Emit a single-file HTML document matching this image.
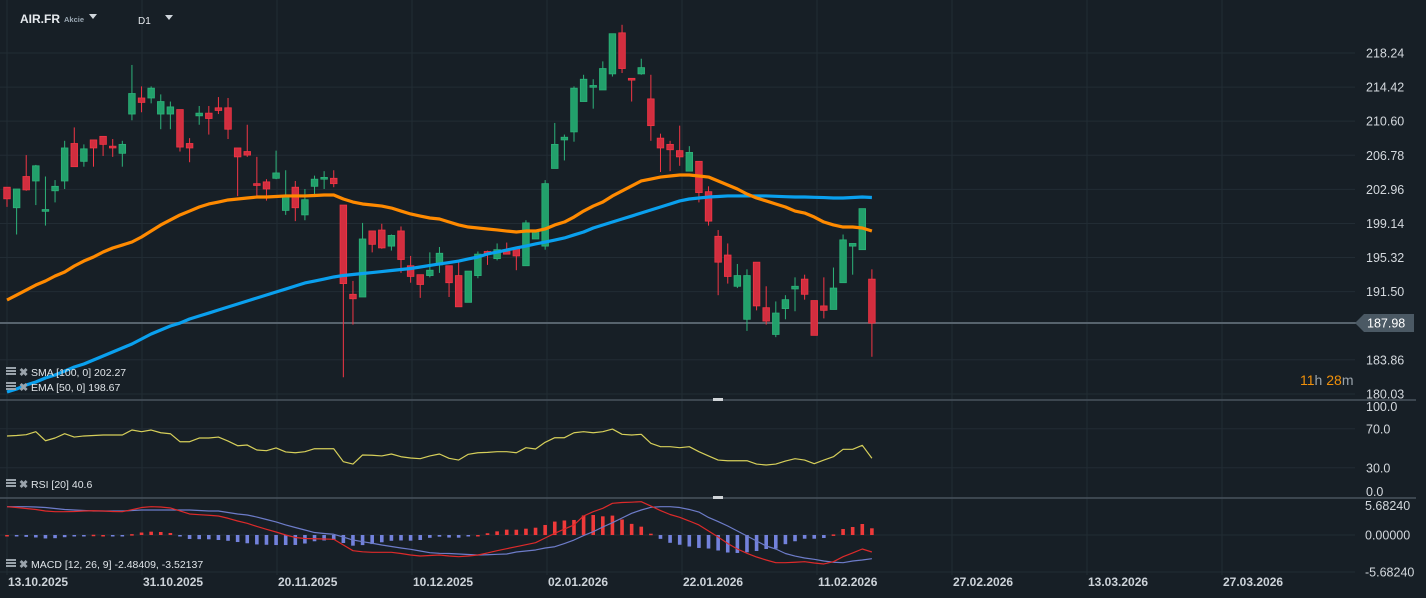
<!DOCTYPE html>
<html><head><meta charset="utf-8"><style>
html,body{margin:0;padding:0;background:#171f26;overflow:hidden}
svg{display:block;font-family:"Liberation Sans",sans-serif}
</style></head><body>
<svg id="chart" width="1426" height="598" viewBox="0 0 1426 598" xmlns="http://www.w3.org/2000/svg">
<rect width="1426" height="598" fill="#171f26"/>
<g id="grid"></g>
<g id="main"></g>
<g id="rsi"></g>
<g id="macd"></g>
<g id="axes"></g>
<line x1="0" y1="400" x2="1416" y2="400" stroke="#48535d" stroke-width="1.5"/>
<line x1="0" y1="498" x2="1416" y2="498" stroke="#48535d" stroke-width="1.5"/>
<rect x="713" y="398" width="10" height="3" fill="#d0d4d8"/>
<rect x="713" y="496" width="10" height="3" fill="#d0d4d8"/>
<g>
<text x="20" y="23" fill="#e6eaee" font-size="12" font-weight="bold">AIR.FR</text>
<text x="64" y="22" fill="#9aa7b2" font-size="7.5" font-weight="bold">Akcie</text>
<polygon points="89,14 97,14 93,19" fill="#d0d6dc"/>
<text x="138" y="24" fill="#e6eaee" font-size="10">D1</text>
<polygon points="165,15 173,15 169,20" fill="#d0d6dc"/>
</g>
<g id="legends"></g>
</svg>
<script>
const NS='http://www.w3.org/2000/svg';
// ---------- data ----------
const opens=[203.2,200.9,204.4,203.9,200.5,202.8,203.9,208.1,206.1,208.5,208.9,207.8,207.0,211.4,213.2,213.2,211.4,211.4,211.9,208.1,211.2,211.5,212.1,212.1,207.6,207.2,203.6,203.8,204.2,200.6,203.2,200.1,203.3,204.1,204.2,201.2,191.2,190.9,198.3,198.4,196.6,198.3,194.4,193.4,193.3,194.5,194.4,193.3,190.3,193.3,196.0,195.2,196.0,196.4,194.4,197.4,196.6,205.3,208.5,209.4,212.8,214.4,214.1,215.9,220.5,215.4,215.9,213.1,208.7,208.0,207.3,205.0,206.1,202.7,197.7,195.6,192.1,188.4,194.8,189.7,186.7,189.6,191.8,192.9,190.5,189.9,189.5,192.5,196.6,196.2,192.9];
const highs=[203.2,203.0,206.8,205.7,204.4,204.0,208.4,209.9,208.0,208.5,208.9,208.6,208.4,216.9,214.5,214.5,213.6,212.8,211.9,208.7,212.3,212.3,213.3,213.2,207.6,210.2,206.6,204.1,207.3,205.1,203.9,203.0,204.5,205.0,205.1,201.2,192.7,199.2,198.3,199.1,197.9,198.8,195.5,193.4,195.9,196.5,194.4,194.8,193.8,196.0,196.1,196.9,197.0,196.4,199.5,198.3,204.0,210.4,209.1,214.5,215.8,215.3,217.3,220.4,221.4,215.4,217.6,215.8,209.2,208.4,210.1,207.8,206.1,203.3,198.4,196.9,194.6,194.0,194.8,192.1,190.4,191.1,193.1,193.4,190.5,193.1,194.2,197.9,196.9,200.8,194.0];
const lows=[201.0,197.9,202.8,201.2,198.9,201.5,203.0,205.5,205.5,205.5,206.7,206.6,205.5,210.7,211.6,212.6,209.7,209.7,207.2,206.0,210.2,209.1,211.4,208.6,202.2,206.6,202.2,201.7,204.1,200.1,199.4,199.5,202.1,203.0,203.2,181.9,187.8,190.9,195.9,196.3,196.1,193.6,192.5,190.8,193.1,193.6,190.9,189.8,190.3,193.0,194.5,195.0,195.7,193.9,194.4,197.4,196.2,205.3,206.2,208.3,212.8,212.0,214.1,215.6,216.0,212.8,215.8,208.4,204.9,205.0,205.6,205.0,201.5,198.9,191.1,192.4,191.9,187.1,189.4,187.8,186.4,188.4,189.3,190.6,186.6,188.5,189.5,192.5,193.4,196.2,184.2];
const closes=[201.9,203.0,202.9,205.6,200.7,203.3,207.6,205.5,207.5,207.6,208.0,207.6,208.0,213.7,212.7,214.3,212.8,212.2,207.7,207.6,211.5,210.9,211.8,209.7,206.6,206.8,203.4,203.0,204.8,202.2,200.9,201.8,204.1,204.3,203.6,192.4,190.7,197.4,196.8,196.4,197.8,195.1,193.2,192.3,193.9,195.8,192.5,189.8,193.8,195.7,195.7,196.2,195.7,195.5,199.2,198.3,203.6,208.0,208.8,214.3,215.3,214.6,216.5,220.4,216.5,215.2,216.6,210.1,207.6,207.4,206.6,207.1,202.6,199.4,194.8,193.2,193.3,193.3,189.9,188.2,189.1,190.6,192.1,191.2,186.6,189.4,191.9,197.3,196.9,200.8,187.98];
const sma100=[180.25,180.59,181.04,181.37,181.82,182.16,182.60,183.05,183.39,183.84,184.29,184.73,185.18,185.63,186.19,186.75,187.20,187.65,187.98,188.43,188.77,189.10,189.44,189.78,190.11,190.45,190.79,191.12,191.46,191.79,192.13,192.47,192.69,192.91,193.14,193.31,193.42,193.53,193.64,193.75,193.87,193.98,194.09,194.26,194.43,194.60,194.76,194.93,195.16,195.38,195.72,195.94,196.16,196.39,196.61,196.84,197.06,197.28,197.51,197.85,198.18,198.63,198.97,199.30,199.64,199.97,200.31,200.65,200.98,201.32,201.66,201.88,201.99,202.10,202.16,202.22,202.22,202.22,202.22,202.22,202.18,202.14,202.10,202.10,202.07,202.04,201.99,201.99,202.05,202.10,202.05];
const ema50=[190.56,191.12,191.68,192.24,192.69,193.25,193.70,194.37,194.93,195.38,195.94,196.39,196.72,197.06,197.62,198.29,198.97,199.53,200.09,200.53,200.98,201.32,201.54,201.77,201.88,201.99,202.10,202.10,202.16,202.22,202.22,202.22,202.27,202.33,202.33,201.88,201.54,201.32,201.21,201.09,200.87,200.53,200.20,199.97,199.75,199.64,199.30,198.97,198.74,198.63,198.52,198.41,198.29,198.18,198.29,198.29,198.52,198.97,199.30,199.86,200.53,201.09,201.54,202.22,202.78,203.34,203.90,204.12,204.34,204.46,204.57,204.57,204.46,204.34,203.90,203.45,203.00,202.44,201.99,201.66,201.32,200.98,200.53,200.31,199.86,199.30,198.97,198.74,198.74,198.63,198.29];
const rsiValues=[62.6,63.1,63.9,67.0,57.7,60.5,64.9,61.5,62.6,63.1,63.6,63.6,63.6,68.7,67.0,68.7,65.9,64.9,56.7,56.7,60.5,60.5,61.5,57.4,52.6,53.3,48.2,47.5,50.3,46.2,45.4,46.5,49.5,49.5,49.5,36.2,33.8,43.1,42.8,42.1,44.1,41.3,40.0,39.3,42.1,44.1,39.7,37.9,43.8,45.4,45.8,46.5,46.5,45.4,50.6,49.2,56.1,60.8,60.8,65.9,67.0,65.9,67.0,69.7,64.3,63.6,64.3,55.1,51.6,51.6,50.6,51.6,46.5,42.1,37.9,37.2,37.2,37.2,33.8,32.8,33.8,36.9,39.3,37.9,34.2,37.9,41.3,48.9,48.9,53.0,39.7];
const macdLine=[4.35,4.22,4.07,3.92,3.69,3.58,3.58,3.61,3.69,3.73,3.69,3.61,3.58,3.89,4.22,4.35,4.30,4.15,3.69,3.23,3.12,3.03,2.92,2.57,2.15,1.80,1.31,0.88,0.46,0,-0.38,-0.54,-0.58,-0.61,-0.66,-1.54,-2.41,-2.58,-2.66,-2.66,-2.66,-2.84,-3.07,-3.23,-3.15,-3.07,-3.23,-3.33,-3.23,-3.07,-2.76,-2.41,-2.10,-1.80,-1.49,-1.18,-0.46,0.26,0.92,1.54,2.92,3.58,4.10,4.87,4.99,5.04,5.12,4.45,3.76,3.15,2.72,2.15,1.54,0.61,-0.31,-1.31,-2.15,-2.81,-3.38,-3.84,-4.25,-4.25,-4.19,-4.10,-4.30,-4.45,-4.10,-3.33,-2.76,-2.15,-2.61];
const signalLine=[4.35,4.35,4.35,4.30,4.22,4.07,3.92,3.84,3.76,3.69,3.69,3.69,3.69,3.76,3.84,3.84,3.84,3.84,3.84,3.84,3.76,3.69,3.69,3.46,3.23,3.07,2.76,2.38,2.00,1.54,1.15,0.77,0.38,0.23,0.11,-0.31,-0.77,-1.03,-1.27,-1.54,-1.77,-2.00,-2.20,-2.46,-2.72,-2.81,-2.84,-2.92,-3.00,-3.07,-3.03,-2.97,-2.92,-2.61,-2.46,-2.30,-2.00,-1.80,-1.31,-0.77,-0.08,0.51,1.23,1.89,2.61,3.33,3.84,4.25,4.35,4.35,4.22,3.92,3.53,2.69,2.07,1.38,0.61,-0.15,-0.92,-1.69,-2.15,-2.84,-3.23,-3.53,-3.73,-3.99,-4.19,-4.25,-3.99,-3.84,-3.64];
const priceTicks=["218.24","214.42","210.60","206.78","202.96","199.14","195.32","191.50","183.86","180.03"];
const rsiTicks=["100.0","70.0","30.0","0.0"];
const macdTicks=["5.68240","0.00000","-5.68240"];
const dateLabels=["13.10.2025","31.10.2025","20.11.2025","10.12.2025","02.01.2026","22.01.2026","11.02.2026","27.02.2026","13.03.2026","27.03.2026"];
const lastPrice=187.98;

// ---------- scales ----------
const x=i=>7+i*9.61;
const yP=p=>53+(218.24-p)*8.924;
const yR=v=>497-v*0.975;
const yM=v=>535-v*6.51;
const dateX=k=>7+k*135;

function mk(tag,attrs,parent){const e=document.createElementNS(NS,tag);for(const k in attrs)e.setAttribute(k,attrs[k]);parent.appendChild(e);return e;}
const grid=document.getElementById('grid'),main=document.getElementById('main'),rsiG=document.getElementById('rsi'),macdG=document.getElementById('macd'),axes=document.getElementById('axes'),leg=document.getElementById('legends');

dateLabels.forEach((d,k)=>{
  const l=mk('line',{x1:dateX(k),y1:0,x2:dateX(k),y2:575,stroke:'#222c34','stroke-width':1},grid);
  
  
  const t=mk('text',{x:dateX(k)+1,y:586,fill:'#cdd3d9','font-size':12,'font-weight':'bold'},axes);
  t.textContent=d;
  
  
});
priceTicks.forEach(s=>{
  const y=yP(parseFloat(s));
  const l=mk('line',{x1:0,y1:y,x2:1355,y2:y,stroke:'#222c34','stroke-width':1},grid);
  
  
  const t=mk('text',{x:1366,y:y+4.5,fill:'#d3d8dd','font-size':12.5},axes);
  t.textContent=s;
  
  
});
rsiTicks.forEach(s=>{
  const v=parseFloat(s),y=yR(v);
  if(v>0&&v<100){const l=mk('line',{x1:0,y1:y,x2:1355,y2:y,stroke:'#222c34','stroke-width':1},grid);
  
  }
  const t=mk('text',{x:1366,y:Math.min(Math.max(y+4.5,411),496),fill:'#d3d8dd','font-size':12.5},axes);
  t.textContent=s;
  
  
});
macdTicks.forEach(s=>{
  const v=parseFloat(s),y=yM(v);
  if(v<=0){const l=mk('line',{x1:0,y1:y,x2:1355,y2:y,stroke:'#222c34','stroke-width':1},grid);
  
  }
  const t=mk('text',{x:1365,y:Math.max(y+4.5,510),fill:'#d3d8dd','font-size':12.5},axes);
  t.textContent=s;
  
  
});

const cy=yP(lastPrice);
const cl=mk('line',{x1:0,y1:cy,x2:1356,y2:cy,stroke:'#57636d','stroke-width':2},main);



opens.forEach((o,i)=>{
  const c=closes[i],up=c>=o,col=up?'#2db37a':'#f23645',fill=up?'#22a06b':'#d22e3f';
  const w=mk('line',{x1:x(i),y1:yP(highs[i]),x2:x(i),y2:yP(lows[i]),stroke:col,'stroke-width':1},main);
  
  
  const top=yP(Math.max(o,c)),bot=yP(Math.min(o,c));
  const b=mk('rect',{x:x(i)-3.3,y:top,width:6.6,height:Math.max(bot-top,1.5),fill:fill,stroke:col,'stroke-width':0.8},main);
  
  
});
function poly(arr,ys,color,w,parent,name){
  const p=mk('polyline',{points:arr.map((v,i)=>x(i)+','+ys(v)).join(' '),fill:'none',stroke:color,'stroke-width':w,'stroke-linejoin':'round'},parent);
  
  
}
poly(sma100,yP,'#0aa0ee',3.2,main,'sma-100-line');
poly(ema50,yP,'#ff8a00',3.2,main,'ema-50-line');

const tag=mk('polygon',{points:`1355,${cy} 1364,${cy-9} 1414,${cy-9} 1414,${cy+9} 1364,${cy+9}`,fill:'#4b5964'},axes);


const tt=mk('text',{x:1367,y:cy+4.5,fill:'#ffffff','font-size':12.5},axes);
tt.textContent=lastPrice.toFixed(2);


const cd=mk('text',{x:1300,y:385,'font-size':14},axes);
cd.innerHTML='<tspan fill="#f0900a">11</tspan><tspan fill="#9aa3ab">h </tspan><tspan fill="#f0900a">28</tspan><tspan fill="#9aa3ab">m</tspan>';



poly(rsiValues,yR,'#d6cf5a',1.2,rsiG,'rsi-line');

macdLine.forEach((m,i)=>{
  const h=m-signalLine[i],y0=yM(0),y1=yM(h);
  const r=mk('rect',{x:x(i)-1.8,y:Math.min(y0,y1),width:3.6,height:Math.max(Math.abs(y1-y0),1.5),fill:h>=0?'#ee3a3a':'#7382dc'},macdG);
  
  
});
poly(signalLine,yM,'#6d7cc9',1.2,macdG,'macd-signal-line');
poly(macdLine,yM,'#dd2a2a',1.2,macdG,'macd-line');

function legend(y,text,name){
  const g=mk('g',{},leg);
  
  
  mk('rect',{x:6,y:y-8,width:10,height:2,fill:'#9aa3ab'},g);
  mk('rect',{x:6,y:y-5,width:10,height:2,fill:'#9aa3ab'},g);
  mk('rect',{x:6,y:y-2,width:10,height:2,fill:'#9aa3ab'},g);
  const xx=mk('text',{x:19,y:y+1,fill:'#9aa3ab','font-size':11,'font-weight':'bold'},g);xx.textContent='✖';
  const t=mk('text',{x:31,y:y+1,fill:'#dfe4e8','font-size':10.5},g);t.textContent=text;
}
legend(375,'SMA [100,  0] 202.27','sma-legend');
legend(390,'EMA [50,  0] 198.67','ema-legend');
legend(487,'RSI [20]  40.6','rsi-legend');
legend(567,'MACD [12, 26, 9] -2.48409,  -3.52137','macd-legend');
</script>
</body></html>
